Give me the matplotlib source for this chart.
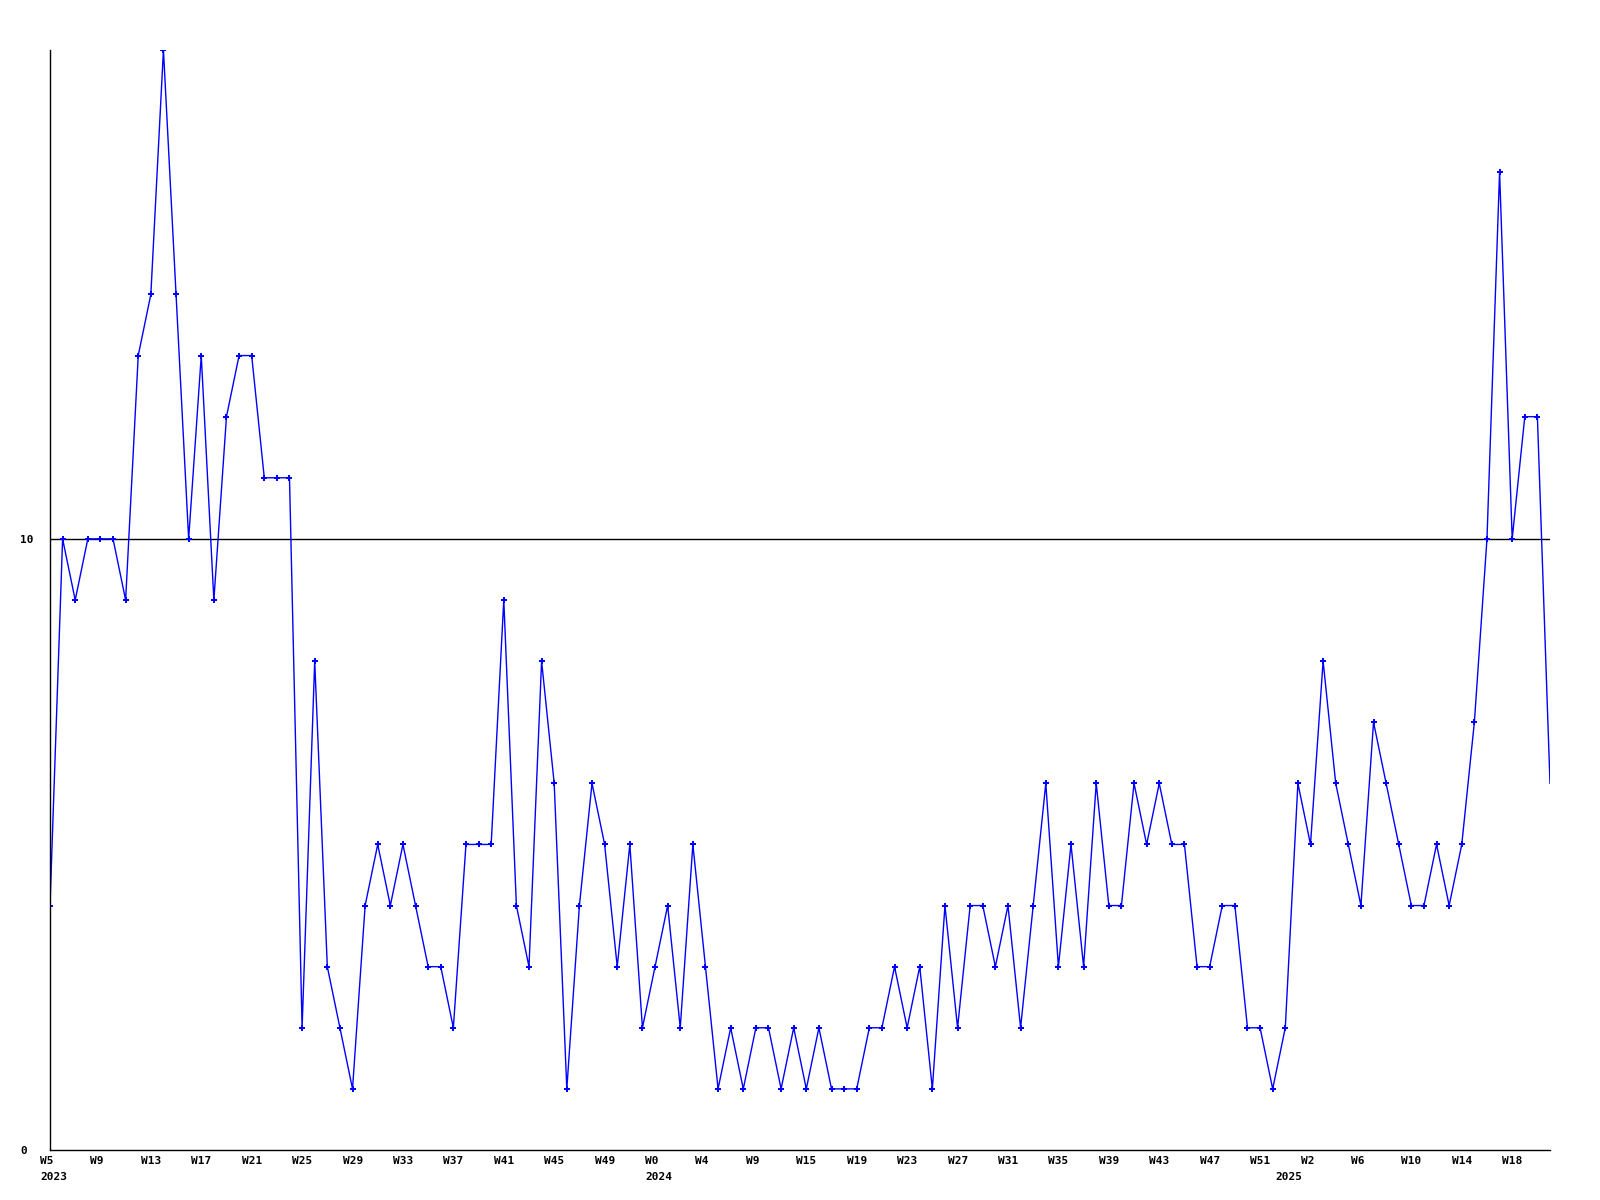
import numpy as np
import matplotlib
matplotlib.use('Agg')
import matplotlib.pyplot as plt
import matplotlib.transforms as mtrans

mpl_font = {'family': 'DejaVu Sans Mono', 'size': 8, 'weight': 'bold'}
plt.rc('font', **mpl_font)

# weekly values, 2023 W5 .. 2025 W20
values = [4, 10, 9, 10, 10, 10, 9, 13, 14, 18,
          14, 10, 13, 9, 12, 13, 13, 11, 11, 11,
          2, 8, 3, 2, 1, 4, 5, 4, 5, 4,
          3, 3, 2, 5, 5, 5, 9, 4, 3, 8,
          6, 1, 4, 6, 5, 3, 5, 2, 3, 4,
          2, 5, 3, 1, 2, 1, 2, 2, 1, 2,
          1, 2, 1, 1, 1, 2, 2, 3, 2, 3,
          1, 4, 2, 4, 4, 3, 4, 2, 4, 6,
          3, 5, 3, 6, 4, 4, 6, 5, 6, 5,
          5, 3, 3, 4, 4, 2, 2, 1, 2, 6,
          5, 8, 6, 5, 4, 7, 6, 5, 4, 4,
          5, 4, 5, 7, 10, 16, 10, 12, 12, 6]

week_labels = ['W5', 'W9', 'W13', 'W17', 'W21', 'W25', 'W29', 'W33', 'W37', 'W41',
               'W45', 'W49', 'W0', 'W4', 'W9', 'W15', 'W19', 'W23', 'W27', 'W31',
               'W35', 'W39', 'W43', 'W47', 'W51', 'W2', 'W6', 'W10', 'W14', 'W18']
week_label_step = 4

year_labels = ['2023', '2024', '2025']
year_pos = [0, 48, 98]

ytick_vals = [0, 10]

x = np.arange(len(values))

fig = plt.figure(figsize=(16, 12), dpi=100)
ax = fig.add_axes([50 / 1600, 50 / 1200, 1500 / 1600, 1100 / 1200])

ax.axhline(y=10, color='black', linewidth=1)
ax.plot(x, values, color='#0000ff', linewidth=1.0)
ax.plot(x[:-1], values[:-1], linestyle='none', marker='P', markersize=4.5,
        color='#0000ff', markeredgewidth=0)

ax.set_xlim(0, len(values) - 1)
ax.set_ylim(0, 18)

for side in ['top', 'right']:
    ax.spines[side].set_visible(False)
for side in ['left', 'bottom']:
    ax.spines[side].set_linewidth(1.0)
    ax.spines[side].set_color('black')

ax.set_xticks(x[::week_label_step][:len(week_labels)])
ax.set_xticklabels(week_labels)
ax.tick_params(axis='x', length=0, pad=4)
shift = mtrans.ScaledTranslation(-10 / 100, 0, fig.dpi_scale_trans)
for lab in ax.get_xticklabels():
    lab.set_horizontalalignment('left')
    lab.set_transform(lab.get_transform() + shift)

ax.set_yticks(ytick_vals)
ax.set_yticklabels([str(v) for v in ytick_vals])
ax.tick_params(axis='y', length=0, pad=21.6)
for lab in ax.get_yticklabels():
    lab.set_horizontalalignment('left')

year_trans = ax.get_xaxis_transform() + mtrans.ScaledTranslation(-10 / 100, -27 / 100, fig.dpi_scale_trans)
for pos, yl in zip(year_pos, year_labels):
    ax.text(pos, 0, yl, transform=year_trans, ha='left', va='center')

fig.savefig('out.png', dpi=100, facecolor='white')
